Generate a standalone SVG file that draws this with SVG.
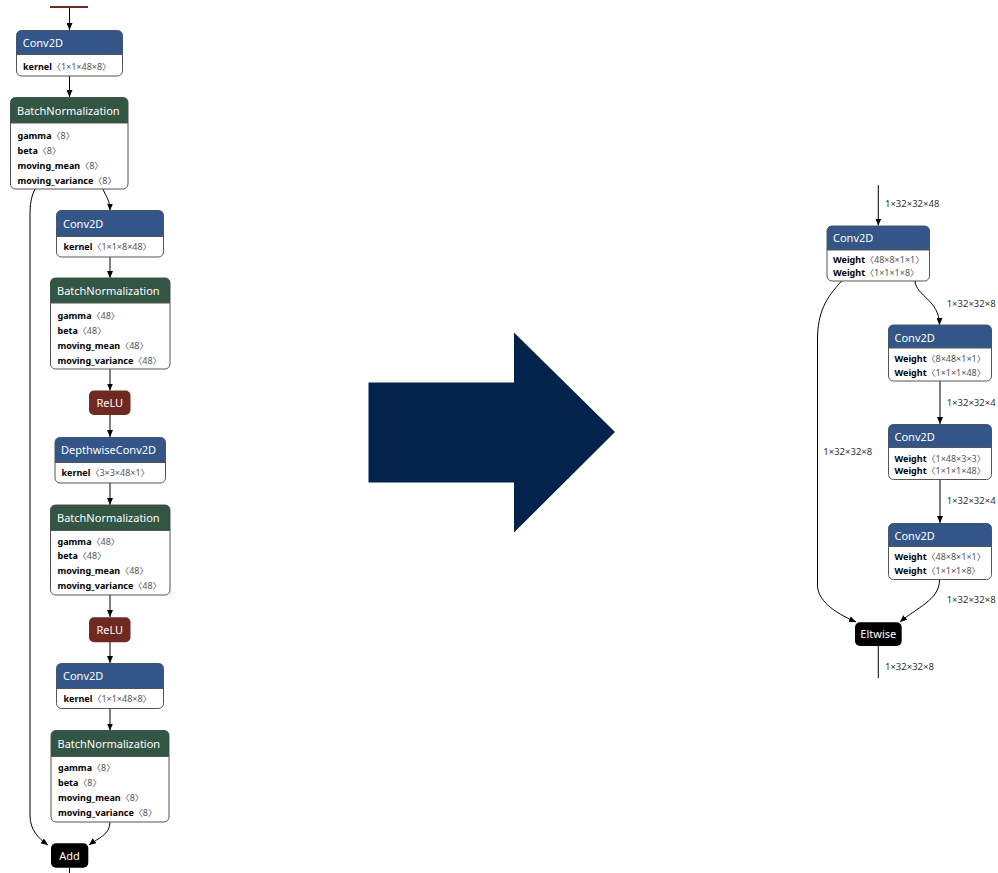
<svg xmlns="http://www.w3.org/2000/svg" width="998" height="873" viewBox="0 0 998 873">
<defs>
<marker id="arr" markerWidth="8" markerHeight="6" refX="7" refY="3" orient="auto" markerUnits="userSpaceOnUse">
<path d="M0,0 L7,3 L0,6 Z" fill="#000"/>
</marker>
</defs>
<style>
.body{fill:#fff;stroke:#555;stroke-width:1}
.layer{fill:#335588}
.norm{fill:#335544}
.act{fill:#702921}
.blk{fill:#000}
.hd{font-family:"Noto Sans","DejaVu Sans",sans-serif;font-size:11px;fill:#fff}
.bt{font-family:"Noto Sans","Noto Sans CJK SC",sans-serif;font-size:9px;fill:#000}
.k{font-weight:bold}
.v{fill:#555}
.lbl{font-family:"Noto Sans","DejaVu Sans",sans-serif;font-size:9.5px;fill:#333}
.e{fill:none;stroke:#000;stroke-width:1}
.sep{stroke:#555;stroke-width:1}
</style>
<rect x="0" y="0" width="998" height="873" fill="#fff"/>

<g id="edges">
<line x1="50" y1="7" x2="88" y2="7" stroke="#702921" stroke-width="2"/>
<path class="e" d="M69.5,8 L69.5,30" marker-end="url(#arr)"/>
<path class="e" d="M69.5,76 L69.5,97" marker-end="url(#arr)"/>
<path class="e" d="M103,189 C106,197 110,200 110,210.5" marker-end="url(#arr)"/>
<path class="e" d="M35,189 C31,197 30,205 30,215 L30,815 C30,830 38,838 48,845" marker-end="url(#arr)"/>
<path class="e" d="M110,257 L110,278" marker-end="url(#arr)"/>
<path class="e" d="M110,369 L110,390.5" marker-end="url(#arr)"/>
<path class="e" d="M110,415 L110,437" marker-end="url(#arr)"/>
<path class="e" d="M110,483 L110,505" marker-end="url(#arr)"/>
<path class="e" d="M110,595 L110,617" marker-end="url(#arr)"/>
<path class="e" d="M110,642 L110,663" marker-end="url(#arr)"/>
<path class="e" d="M110,708.5 L110,730.5" marker-end="url(#arr)"/>
<path class="e" d="M110,822 C110,835 98,838 89,845" marker-end="url(#arr)"/>
<path class="e" d="M69.5,868 L69.5,873"/>

<path class="e" d="M878.3,185 L878.3,225.5" marker-end="url(#arr)"/>
<path class="e" d="M915,281 C916,296 939.5,300 939.5,325" marker-end="url(#arr)"/>
<path class="e" d="M841.7,281 C826,298 817.5,312 817.5,340 L817.5,585 C817.5,600 833,612 856,622" marker-end="url(#arr)"/>
<path class="e" d="M940,381 L940,424" marker-end="url(#arr)"/>
<path class="e" d="M940,479.5 L940,523" marker-end="url(#arr)"/>
<path class="e" d="M939.5,580 C939.5,600 916,608 900,622" marker-end="url(#arr)"/>
<path class="e" d="M878.3,646 L878.3,678"/>
<text class="lbl" x="885" y="207">1×32×32×48</text>
<text class="lbl" x="946.7" y="306.5">1×32×32×8</text>
<text class="lbl" x="946.7" y="406">1×32×32×4</text>
<text class="lbl" x="823.3" y="455">1×32×32×8</text>
<text class="lbl" x="946.7" y="504">1×32×32×4</text>
<text class="lbl" x="946.7" y="603">1×32×32×8</text>
<text class="lbl" x="885" y="670">1×32×32×8</text>
</g>

<g id="conv1">
<rect class="body" x="16.5" y="30.5" width="106" height="45.5" rx="5"/>
<path class="layer" d="M16.5,54.5 L16.5,35.5 Q16.5,30.5 21.5,30.5 L117.5,30.5 Q122.5,30.5 122.5,35.5 L122.5,54.5 Z"/>
<line class="sep" x1="16.5" y1="54.5" x2="122.5" y2="54.5"/>
<text class="hd" x="22.7" y="47">Conv2D</text>
<text class="bt" x="23" y="70"><tspan class="k">kernel</tspan><tspan class="v">〈1×1×48×8〉</tspan></text>
</g>

<g id="bn1">
<rect class="body" x="10.5" y="97.5" width="117.5" height="91.5" rx="5"/>
<path class="norm" d="M10.5,123 L10.5,102.5 Q10.5,97.5 15.5,97.5 L123,97.5 Q128,97.5 128,102.5 L128,123 Z"/>
<line class="sep" x1="10.5" y1="123" x2="128" y2="123"/>
<text class="hd" x="17" y="114.5">BatchNormalization</text>
<text class="bt" x="17.5" y="138.5"><tspan class="k">gamma</tspan><tspan class="v">〈8〉</tspan></text>
<text class="bt" x="17.5" y="153.5"><tspan class="k">beta</tspan><tspan class="v">〈8〉</tspan></text>
<text class="bt" x="17.5" y="168.5"><tspan class="k">moving_mean</tspan><tspan class="v">〈8〉</tspan></text>
<text class="bt" x="17.5" y="183.5"><tspan class="k">moving_variance</tspan><tspan class="v">〈8〉</tspan></text>
</g>

<g id="conv2">
<rect class="body" x="56.5" y="210.5" width="107" height="46.5" rx="5"/>
<path class="layer" d="M56.5,236.5 L56.5,215.5 Q56.5,210.5 61.5,210.5 L158.5,210.5 Q163.5,210.5 163.5,215.5 L163.5,236.5 Z"/>
<line class="sep" x1="56.5" y1="236.5" x2="163.5" y2="236.5"/>
<text class="hd" x="63" y="227.5">Conv2D</text>
<text class="bt" x="63.5" y="250"><tspan class="k">kernel</tspan><tspan class="v">〈1×1×8×48〉</tspan></text>
</g>

<g id="bn2">
<rect class="body" x="50.5" y="278" width="119.5" height="91" rx="5"/>
<path class="norm" d="M50.5,303 L50.5,283 Q50.5,278 55.5,278 L165,278 Q170,278 170,283 L170,303 Z"/>
<line class="sep" x1="50.5" y1="303" x2="170" y2="303"/>
<text class="hd" x="57" y="295">BatchNormalization</text>
<text class="bt" x="57.5" y="319"><tspan class="k">gamma</tspan><tspan class="v">〈48〉</tspan></text>
<text class="bt" x="57.5" y="333.5"><tspan class="k">beta</tspan><tspan class="v">〈48〉</tspan></text>
<text class="bt" x="57.5" y="348.5"><tspan class="k">moving_mean</tspan><tspan class="v">〈48〉</tspan></text>
<text class="bt" x="57.5" y="363.5"><tspan class="k">moving_variance</tspan><tspan class="v">〈48〉</tspan></text>
</g>

<g id="relu1">
<rect class="act" x="89" y="390.5" width="41.5" height="24.5" rx="5"/>
<text class="hd" x="109.8" y="407" text-anchor="middle">ReLU</text>
</g>

<g id="dwconv">
<rect class="body" x="55" y="437.5" width="110.5" height="45.5" rx="5"/>
<path class="layer" d="M55,462.5 L55,442.5 Q55,437.5 60,437.5 L160.5,437.5 Q165.5,437.5 165.5,442.5 L165.5,462.5 Z"/>
<line class="sep" x1="55" y1="462.5" x2="165.5" y2="462.5"/>
<text class="hd" x="61" y="454">DepthwiseConv2D</text>
<text class="bt" x="61.5" y="476"><tspan class="k">kernel</tspan><tspan class="v">〈3×3×48×1〉</tspan></text>
</g>

<g id="bn3">
<rect class="body" x="50.5" y="505" width="119.5" height="90" rx="5"/>
<path class="norm" d="M50.5,530.5 L50.5,510 Q50.5,505 55.5,505 L165,505 Q170,505 170,510 L170,530.5 Z"/>
<line class="sep" x1="50.5" y1="530.5" x2="170" y2="530.5"/>
<text class="hd" x="57" y="522">BatchNormalization</text>
<text class="bt" x="57.5" y="544.5"><tspan class="k">gamma</tspan><tspan class="v">〈48〉</tspan></text>
<text class="bt" x="57.5" y="559"><tspan class="k">beta</tspan><tspan class="v">〈48〉</tspan></text>
<text class="bt" x="57.5" y="574"><tspan class="k">moving_mean</tspan><tspan class="v">〈48〉</tspan></text>
<text class="bt" x="57.5" y="589"><tspan class="k">moving_variance</tspan><tspan class="v">〈48〉</tspan></text>
</g>

<g id="relu2">
<rect class="act" x="89" y="617.3" width="41.5" height="25" rx="5"/>
<text class="hd" x="109.8" y="634" text-anchor="middle">ReLU</text>
</g>

<g id="conv3">
<rect class="body" x="56.5" y="663.5" width="107" height="45" rx="5"/>
<path class="layer" d="M56.5,688.5 L56.5,668.5 Q56.5,663.5 61.5,663.5 L158.5,663.5 Q163.5,663.5 163.5,668.5 L163.5,688.5 Z"/>
<line class="sep" x1="56.5" y1="688.5" x2="163.5" y2="688.5"/>
<text class="hd" x="63" y="680">Conv2D</text>
<text class="bt" x="63.5" y="702"><tspan class="k">kernel</tspan><tspan class="v">〈1×1×48×8〉</tspan></text>
</g>

<g id="bn4">
<rect class="body" x="51" y="730.5" width="118" height="91.5" rx="5"/>
<path class="norm" d="M51,756.5 L51,735.5 Q51,730.5 56,730.5 L164,730.5 Q169,730.5 169,735.5 L169,756.5 Z"/>
<line class="sep" x1="51" y1="756.5" x2="169" y2="756.5"/>
<text class="hd" x="57.5" y="748">BatchNormalization</text>
<text class="bt" x="58" y="771"><tspan class="k">gamma</tspan><tspan class="v">〈8〉</tspan></text>
<text class="bt" x="58" y="786"><tspan class="k">beta</tspan><tspan class="v">〈8〉</tspan></text>
<text class="bt" x="58" y="801"><tspan class="k">moving_mean</tspan><tspan class="v">〈8〉</tspan></text>
<text class="bt" x="58" y="816"><tspan class="k">moving_variance</tspan><tspan class="v">〈8〉</tspan></text>
</g>

<g id="add">
<rect class="blk" x="51" y="843.3" width="37.3" height="24.5" rx="5"/>
<text class="hd" x="69.6" y="859.5" text-anchor="middle">Add</text>
</g>

<g id="bigarrow">
<path d="M368.5,382.5 L514,382.5 L514,332.5 L615,432 L514,532.5 L514,482.5 L368.5,482.5 Z" fill="#03234a"/>
</g>

<g id="rconv1">
<rect class="body" x="827" y="226" width="102.5" height="55" rx="5"/>
<path class="layer" d="M827,250 L827,231 Q827,226 832,226 L924.5,226 Q929.5,226 929.5,231 L929.5,250 Z"/>
<line class="sep" x1="827" y1="250" x2="929.5" y2="250"/>
<text class="hd" x="833" y="242">Conv2D</text>
<text class="bt" x="833" y="262.5"><tspan class="k">Weight</tspan><tspan class="v">〈48×8×1×1〉</tspan></text>
<text class="bt" x="833" y="276"><tspan class="k">Weight</tspan><tspan class="v">〈1×1×1×8〉</tspan></text>
</g>

<g id="rconv2">
<rect class="body" x="888.5" y="325" width="103" height="56" rx="5"/>
<path class="layer" d="M888.5,348 L888.5,330 Q888.5,325 893.5,325 L986.5,325 Q991.5,325 991.5,330 L991.5,348 Z"/>
<line class="sep" x1="888.5" y1="348" x2="991.5" y2="348"/>
<text class="hd" x="894.5" y="341.5">Conv2D</text>
<text class="bt" x="894.5" y="362"><tspan class="k">Weight</tspan><tspan class="v">〈8×48×1×1〉</tspan></text>
<text class="bt" x="894.5" y="375.5"><tspan class="k">Weight</tspan><tspan class="v">〈1×1×1×48〉</tspan></text>
</g>

<g id="rconv3">
<rect class="body" x="888.5" y="424.5" width="103" height="55" rx="5"/>
<path class="layer" d="M888.5,447.5 L888.5,429.5 Q888.5,424.5 893.5,424.5 L986.5,424.5 Q991.5,424.5 991.5,429.5 L991.5,447.5 Z"/>
<line class="sep" x1="888.5" y1="447.5" x2="991.5" y2="447.5"/>
<text class="hd" x="894.5" y="440.5">Conv2D</text>
<text class="bt" x="894.5" y="461.5"><tspan class="k">Weight</tspan><tspan class="v">〈1×48×3×3〉</tspan></text>
<text class="bt" x="894.5" y="474"><tspan class="k">Weight</tspan><tspan class="v">〈1×1×1×48〉</tspan></text>
</g>

<g id="rconv4">
<rect class="body" x="888.5" y="523.5" width="103" height="56" rx="5"/>
<path class="layer" d="M888.5,546.5 L888.5,528.5 Q888.5,523.5 893.5,523.5 L986.5,523.5 Q991.5,523.5 991.5,528.5 L991.5,546.5 Z"/>
<line class="sep" x1="888.5" y1="546.5" x2="991.5" y2="546.5"/>
<text class="hd" x="894.5" y="539.5">Conv2D</text>
<text class="bt" x="894.5" y="559.5"><tspan class="k">Weight</tspan><tspan class="v">〈48×8×1×1〉</tspan></text>
<text class="bt" x="894.5" y="574"><tspan class="k">Weight</tspan><tspan class="v">〈1×1×1×8〉</tspan></text>
</g>

<g id="eltwise">
<rect class="blk" x="855" y="622.3" width="46.7" height="23.7" rx="5"/>
<text class="hd" x="878.3" y="638" text-anchor="middle">Eltwise</text>
</g>
</svg>
